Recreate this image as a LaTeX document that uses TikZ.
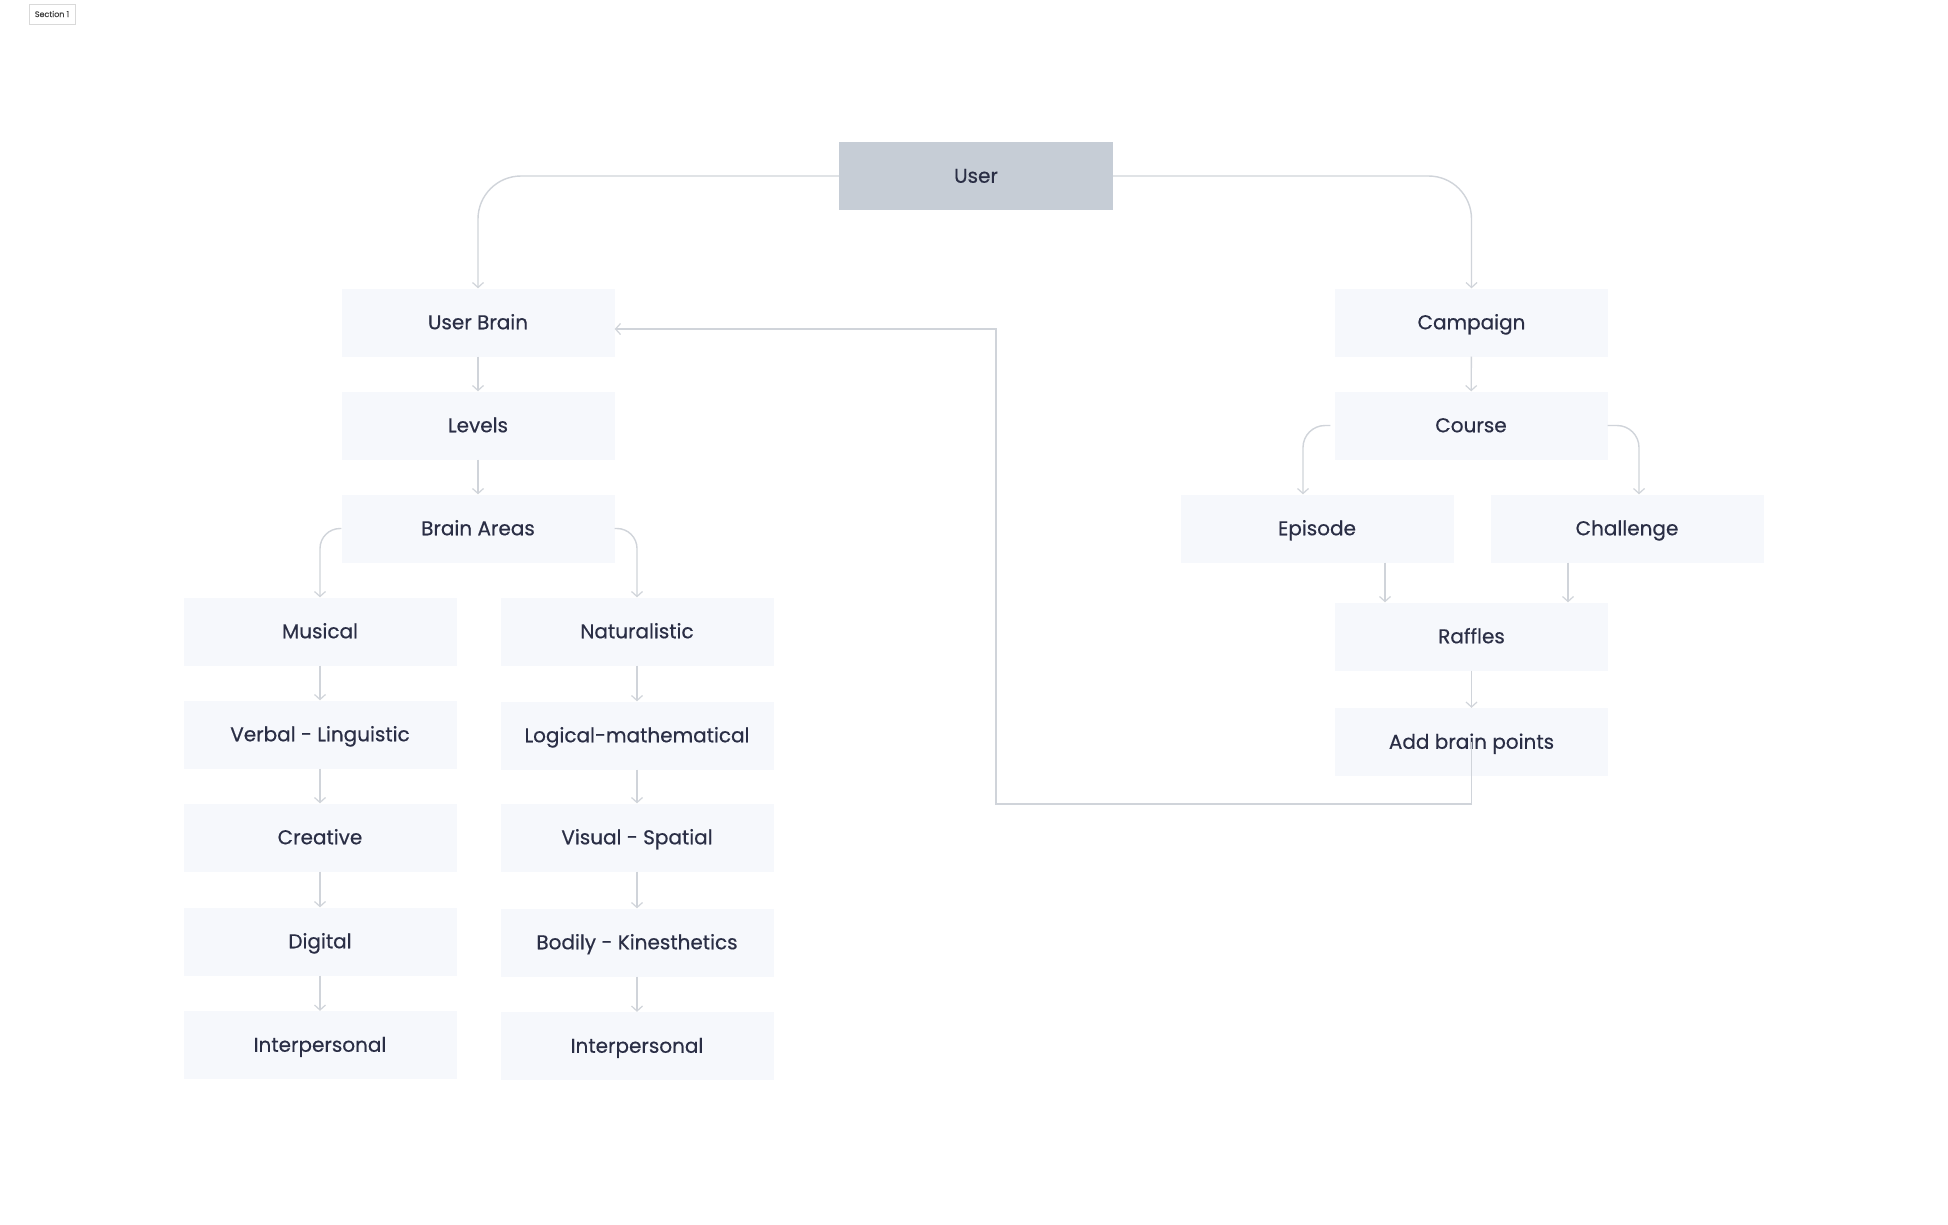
\documentclass[tikz,border=0pt]{standalone}
\usepackage{fontspec}
\setmainfont{Poppins}[FakeBold=0.5]
\usetikzlibrary{arrows.meta}
\definecolor{boxfill}{HTML}{F6F8FC}
\definecolor{userfill}{HTML}{C6CDD6}
\definecolor{txt}{HTML}{2A2E45}
\definecolor{lin}{HTML}{D0D4DA}
\tikzset{
  box/.style={fill=boxfill, minimum width=273pt, minimum height=68pt, inner sep=0pt,
    text=txt, font=\fontsize{20}{24}\selectfont, text height=18pt, text depth=4.5pt},
  userbox/.style={box, fill=userfill, minimum width=274pt},
  conn/.style={draw=lin, line width=1.4pt, -{Straight Barb[length=5pt,width=11pt,line width=1.2pt]}},
}
\begin{document}
\begin{tikzpicture}[x=1pt,y=-1pt]
\useasboundingbox[fill=white] (0,0) rectangle (1948,1224);
\fill[black!6] (30,5) rectangle (76,25);
\node[draw=gray!30, fill=white, inner sep=0pt, minimum width=46pt, minimum height=20pt, text=black!75,
  font=\fontsize{8}{9}\selectfont] (sec) at (52,14) {Section 1};

\node[userbox] (user) at (976,176) {User};
% left
\node[box] (ub) at (478,322.5) {User Brain};
\node[box] (lev) at (478,425.5) {Levels};
\node[box] (ba) at (478,528.5) {Brain Areas};
\node[box] (mus) at (320,631.5) {Musical};
\node[box] (vl) at (320,734.5) {Verbal - Linguistic};
\node[box] (cre) at (320,837.5) {Creative};
\node[box] (dig) at (320,941.5) {Digital};
\node[box] (ip1) at (320,1045) {Interpersonal};
\node[box] (nat) at (637,631.5) {Naturalistic};
\node[box] (lm) at (637,735.5) {Logical-mathematical};
\node[box] (vs) at (637,837.5) {Visual - Spatial};
\node[box] (bk) at (637,942.5) {Bodily - Kinesthetics};
\node[box] (ip2) at (637,1046) {Interpersonal};
% right
\node[box] (camp) at (1471.5,322.5) {Campaign};
\node[box] (course) at (1471,425.5) {Course};
\node[box] (ep) at (1317,528.5) {Episode};
\node[box] (ch) at (1627,528.5) {Challenge};
\node[box] (raf) at (1471.5,636.5) {Raffles};
\node[box] (abp) at (1471.5,742) {Add brain points};

% connectors
\draw[conn, rounded corners=43pt] (user.west) -| (ub.north);
\draw[conn, rounded corners=43pt] (user.east) -| (camp.north);
\draw[conn] (ub) -- (lev);
\draw[conn] (lev) -- (ba);
\draw[conn, rounded corners=20pt] (ba.west) -| (mus.north);
\draw[conn, rounded corners=20pt] (ba.east) -| (nat.north);
\draw[conn] (mus) -- (vl);
\draw[conn] (vl) -- (cre);
\draw[conn] (cre) -- (dig);
\draw[conn] (dig) -- (ip1);
\draw[conn] (nat) -- (lm);
\draw[conn] (lm) -- (vs);
\draw[conn] (vs) -- (bk);
\draw[conn] (bk) -- (ip2);
\draw[conn] (camp) -- (course);
\draw[conn, rounded corners=22pt] ([xshift=-4pt]course.west) -| ([xshift=-14pt]ep.north);
\draw[conn, rounded corners=22pt] (course.east) -| ([xshift=12pt]ch.north);
\coordinate (r1) at (1385,0);
\coordinate (r2) at (1568,0);
\draw[conn] (ep.south -| r1) -- (raf.north -| r1);
\draw[conn] (ch.south -| r2) -- (raf.north -| r2);
\draw[conn] (raf) -- (abp);
\coordinate (fb1) at (1471.5,804);
\coordinate (fb2) at (996,804);
\coordinate (fb3) at (996,329);
\draw[conn] (abp.center) -- (fb1) -- (fb2) -- (fb3) -- (ub.east |- fb3);
\end{tikzpicture}
\end{document}
